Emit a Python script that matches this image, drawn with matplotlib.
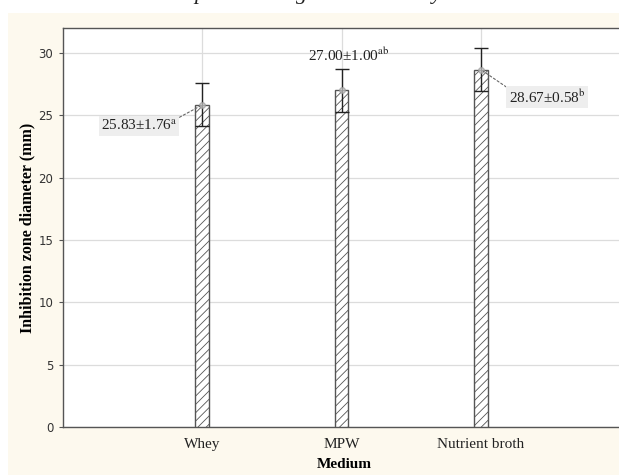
import matplotlib
matplotlib.use("Agg")
import matplotlib.pyplot as plt
from matplotlib.patches import Rectangle

# data
media = ['Whey', 'MPW', 'Nutrient broth']
zone_means = [25.83, 27.00, 28.67]
zone_err = [1.72, 1.72, 1.72]
zone_labels = ['25.83\u00b11.76$^{\\mathrm{a}}$',
               '27.00\u00b11.00$^{\\mathrm{ab}}$',
               '28.67\u00b10.58$^{\\mathrm{b}}$']
y_ticks = [0, 5, 10, 15, 20, 25, 30]

plt.rcParams['mathtext.fontset'] = 'stix'
plt.rcParams['hatch.color'] = '#666666'
plt.rcParams['hatch.linewidth'] = 0.6
serif = 'Liberation Serif'

W, H = 619, 475
fig = plt.figure(figsize=(W / 100, H / 100), dpi=100, facecolor='white')

# cream page background below the cut caption line
fig.patches.append(Rectangle((8 / W, 0), 1 - 8 / W, (H - 13) / H, transform=fig.transFigure,
                             facecolor='#fdf9ee', edgecolor='none', zorder=-10))

# bottoms of the caption line that got cropped off above the chart
for gx, g in [(200, 'p'), (302, 'g'), (437, 'y')]:
    fig.text(gx / W, 1 + 1 / H, g, fontsize=16, family=serif, style='italic',
             ha='center', va='baseline', color='#222222')

ax = fig.add_axes([63 / W, (H - 427) / H, (620 - 63) / W, (427 - 28) / H])
ax.set_facecolor('white')

x = [1, 2, 3]
ax.bar(x, zone_means, width=0.1, color='white', edgecolor='#555555', linewidth=1.0,
       hatch='////', zorder=3)
ax.errorbar(x, zone_means, yerr=zone_err, fmt='none', ecolor='#222222', elinewidth=1,
            capsize=5, capthick=1, zorder=4)
ax.plot(x, zone_means, 'o', mfc='#cccccc', mec='#999999', ms=4, alpha=0.7, zorder=5)

# value labels
txt_kw = dict(fontsize=11, family=serif, color='#222222', zorder=6)
ax.annotate(zone_labels[0], xy=(1, zone_means[0]), xytext=(0.82, 24.15), ha='right', va='center',
            bbox=dict(boxstyle='square,pad=0.15', fc='#eeeeee', ec='none'),
            arrowprops=dict(arrowstyle='-', linestyle=(0, (2, 2)), color='#666666', lw=0.8,
                        relpos=(1, 1), shrinkA=0, shrinkB=2), **txt_kw)
ax.text(2.05, 29.8, zone_labels[1], ha='center', va='center', **txt_kw)
ax.annotate(zone_labels[2], xy=(3, zone_means[2]), xytext=(3.2, 26.45), ha='left', va='center',
            bbox=dict(boxstyle='square,pad=0.15', fc='#eeeeee', ec='none'),
            arrowprops=dict(arrowstyle='-', linestyle=(0, (2, 2)), color='#666666', lw=0.8,
                        relpos=(0, 1), shrinkA=0, shrinkB=2), **txt_kw)

ax.set_xlim(0, 4)
ax.set_ylim(0, 32)
ax.set_xticks(x)
ax.set_xticklabels(media, family=serif, fontsize=11, color='#222222')
ax.set_yticks(y_ticks)
ax.set_yticklabels([str(t) for t in y_ticks], fontsize=8.5, color='#333333')
ax.tick_params(axis='x', length=0, pad=8)
ax.tick_params(axis='y', length=3, width=0.8, color='#555555', pad=4)

ax.grid(True, color='#dcdcdc', linewidth=0.9, zorder=0)
ax.set_axisbelow(True)
for s in ax.spines.values():
    s.set_color('#555555')
    s.set_linewidth(1.0)

ax.set_ylabel('Inhibition zone diameter (mm)', family=serif, fontweight='bold', fontsize=11.5)
ax.yaxis.set_label_coords(-36 / 557, 0.5)
ax.yaxis.label.set_va('center')
ax.set_xlabel('Medium', family=serif, fontweight='bold', fontsize=11)
ax.xaxis.set_label_coords((344 - 63) / 557, -(465 - 427) / 399)
ax.xaxis.label.set_va('center')

fig.savefig('out.png', dpi=100, facecolor=fig.get_facecolor())
